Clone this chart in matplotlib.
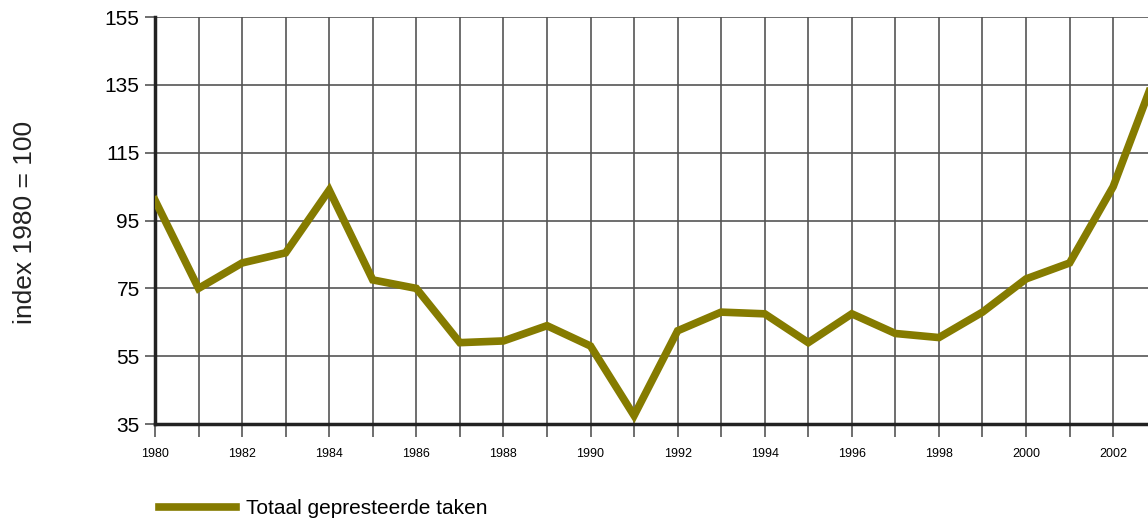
import numpy as np
import matplotlib.pyplot as plt

plt.rcParams['font.family'] = ['Liberation Sans', 'DejaVu Sans']

# index 1980 = 100
years = list(range(1980, 2004))
taken = [101, 75, 82.5, 85.5, 104, 77.5, 75, 59, 59.5, 64, 58, 37.5,
         62.5, 68, 67.5, 59, 67.5, 61.7, 60.5, 68, 77.8, 82.5, 105, 139]
year_labels = [str(y) if y % 2 == 0 else '' for y in years]
y_ticks = [35, 55, 75, 95, 115, 135, 155]

fig = plt.figure(figsize=(11.48, 5.19), dpi=100)
ax = fig.add_axes([0.135, 0.183, 0.865, 0.784])

line, = ax.plot(years, taken, color='#857b00', linewidth=5.5,
                solid_joinstyle='miter', label='Totaal gepresteerde taken', zorder=3)

ax.set_xticks(years)
ax.set_xticklabels(year_labels, fontsize=9)
ax.set_yticks(y_ticks)
ax.set_yticklabels([str(v) for v in y_ticks], fontsize=15)
ax.set_xlim(1980, 2002.8)
ax.set_ylim(35, 155)
ax.grid(True, color='#555555', linewidth=1.2)
ax.set_axisbelow(True)

for s in ['top', 'right']:
    ax.spines[s].set_visible(False)
ax.spines['left'].set_linewidth(2.5)
ax.spines['bottom'].set_linewidth(2.5)
ax.spines['left'].set_color('#222222')
ax.spines['bottom'].set_color('#222222')
ax.tick_params(axis='x', length=9, width=1.2, color='#555555', pad=8)
ax.tick_params(axis='y', length=7, width=1.2, color='#555555', pad=4)

fig.text(0.022, 0.572, 'index 1980 = 100', rotation=90, fontsize=19,
         ha='center', va='center', color='#222222')

fig.legend(handles=[line], loc='center left', bbox_to_anchor=(0.122, 0.02),
           frameon=False, fontsize=15, handlelength=3.7, handletextpad=0.5)

fig.savefig('out.png', dpi=100)
